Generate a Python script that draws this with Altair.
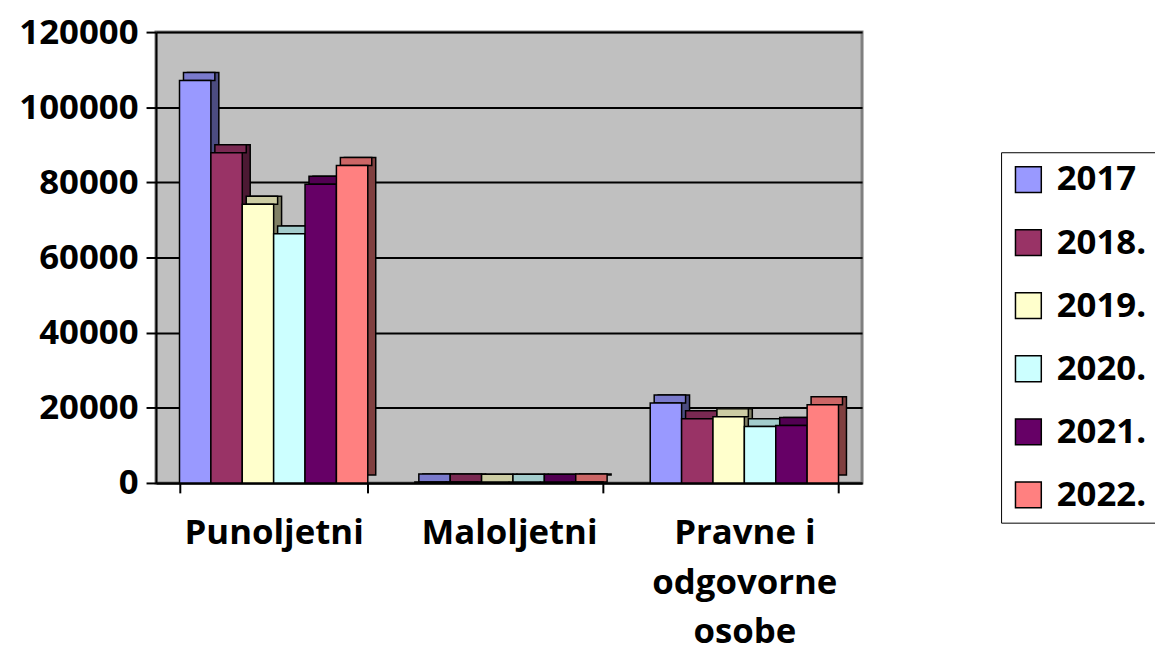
import altair as alt
import pandas as pd

categories = ["Punoljetni", "Maloljetni", "Pravne i odgovorne osobe"]
years = ["2017", "2018.", "2019.", "2020.", "2021.", "2022."]
punoljetni = [107100, 87900, 74200, 66300, 79500, 84500]
maloljetni = [250, 250, 200, 200, 200, 250]
pravne = [21300, 17100, 17600, 15000, 15300, 20800]

main_colors = ["#9999FF", "#993366", "#FFFFCC", "#CCFFFF", "#660066", "#FF8080"]
side_colors = ["#4C4C80", "#4C1933", "#808066", "#668080", "#330033", "#804040"]
top_colors = ["#7A7ACC", "#7A2952", "#CCCCA3", "#A3CCCC", "#520052", "#CC6666"]

series = [punoljetni, maloljetni, pravne]
rows = []
for ci, cat in enumerate(categories):
    for yi, yr in enumerate(years):
        rows.append({"cat": cat, "year": yr, "value": series[ci][yi],
                     "side": side_colors[yi], "top": top_colors[yi]})
df = pd.DataFrame(rows)

FONT = "Open Sans"
FS = 35
W, H = 711, 454
BAND = W / 3 * 0.8
DEPTH = 8

x_enc = alt.X("cat:N", sort=categories, title=None,
              scale=alt.Scale(paddingInner=0.2, paddingOuter=0.1),
              axis=alt.Axis(labelAngle=0, labelFont=FONT, labelFontSize=FS, labelFontWeight="bold",
                            labelColor="black", tickBand="extent", tickColor="black", tickWidth=2,
                            tickSize=10, domainColor="black", domainWidth=2, labelPadding=23,
                            labelLineHeight=50, labelBaseline="top", labelLimit=400,
                            labelExpr="datum.value == 'Pravne i odgovorne osobe' ? ['Pravne i', 'odgovorne', 'osobe'] : datum.value"))
y_enc = alt.Y("value:Q", title=None, scale=alt.Scale(domain=[0, 120000]),
              axis=alt.Axis(values=[0, 20000, 40000, 60000, 80000, 100000, 120000],
                            format="d", labelFont=FONT, labelFontSize=FS, labelFontWeight="bold",
                            labelColor="black", tickColor="black", tickWidth=2, tickSize=10,
                            domainColor="black", domainWidth=2, labelPadding=8, labelLimit=300,
                            grid=True, gridColor="black", gridWidth=2))


def xo(shift):
    return alt.XOffset("year:N", sort=years,
                       scale=alt.Scale(paddingInner=0, paddingOuter=0, range=[shift, BAND + shift]))


base = alt.Chart(df).encode(x=x_enc, y=y_enc)

side = base.mark_bar(yOffset=-DEPTH, y2Offset=-DEPTH, stroke="black", strokeWidth=1.5).encode(
    xOffset=xo(DEPTH), color=alt.Color("side:N", scale=None))
top = base.mark_bar(yOffset=-DEPTH, stroke="black", strokeWidth=1.5).encode(
    xOffset=xo(DEPTH / 2), y2=alt.Y2("value:Q"), color=alt.Color("top:N", scale=None))
main = base.mark_bar(stroke="black", strokeWidth=1.5).encode(
    xOffset=xo(0),
    color=alt.Color("year:N", sort=years, title=None,
                    scale=alt.Scale(domain=years, range=main_colors),
                    legend=alt.Legend(orient="none", legendX=851, legendY=121,
                                      labelFont=FONT, labelFontSize=FS, labelFontWeight="bold",
                                      labelColor="black", symbolType="square", symbolSize=676,
                                      symbolStrokeColor="black", symbolStrokeWidth=1.5,
                                      symbolOpacity=1, rowPadding=27.5, padding=10,
                                      strokeColor="black", fillColor="white", labelOffset=11,
                                      labelLimit=300)))

chart = alt.layer(side, top, main).resolve_scale(xOffset="independent").properties(
    width=W, height=H,
    padding={"left": 149, "top": 22, "right": 295, "bottom": 170},
    autosize=alt.AutoSizeParams(type="none"),
).configure_view(fill="#C0C0C0", stroke="#808080", strokeWidth=3)

chart.save("out.html", embed_options={"renderer": "svg", "actions": False})
